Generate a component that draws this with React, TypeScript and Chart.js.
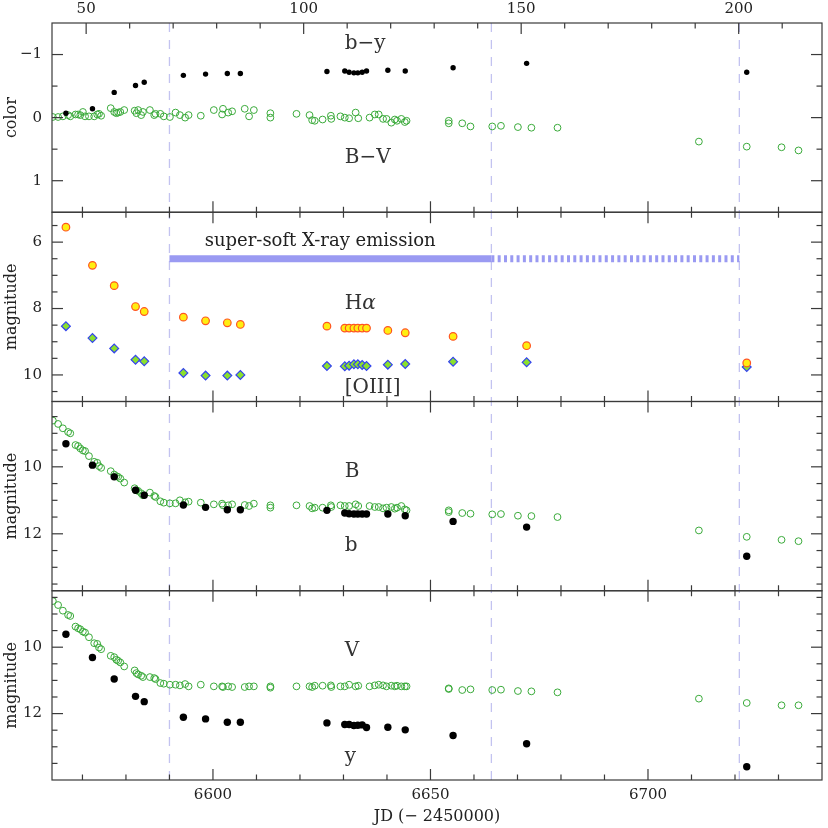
import React, { useEffect, useRef } from 'react';
import { Chart, registerables } from 'chart.js';

Chart.register(...registerables);

// ---------------- data ----------------
// nights with Stromgren b, y and narrow-band Halpha / [OIII] photometry (JD - 2450000)
const nightJD = [6566.2, 6572.3, 6577.3, 6582.2, 6584.2, 6593.2, 6598.3, 6603.3, 6606.3, 6626.2, 6630.3, 6631.3, 6632.4, 6633.3, 6634.3, 6635.3, 6640.2, 6644.2, 6655.2, 6672.1, 6722.7];
const bMinusY = [-0.07, -0.14, -0.40, -0.51, -0.56, -0.67, -0.69, -0.70, -0.70, -0.73, -0.74, -0.72, -0.71, -0.71, -0.72, -0.74, -0.75, -0.74, -0.79, -0.86, -0.72];
const hAlphaMag = [5.55, 6.70, 7.31, 7.94, 8.09, 8.26, 8.37, 8.43, 8.48, 8.53, 8.59, 8.59, 8.59, 8.59, 8.59, 8.59, 8.66, 8.73, 8.84, 9.12, 9.64];
const oIIIMag = [8.53, 8.89, 9.20, 9.54, 9.59, 9.94, 10.02, 10.02, 10.00, 9.73, 9.74, 9.72, 9.68, 9.68, 9.70, 9.73, 9.69, 9.67, 9.60, 9.62, 9.76];
const bStromMag = [9.31, 9.95, 10.30, 10.70, 10.85, 11.14, 11.21, 11.28, 11.28, 11.30, 11.38, 11.40, 11.41, 11.41, 11.41, 11.41, 11.41, 11.46, 11.63, 11.80, 12.67];
const yStromMag = [9.61, 10.31, 10.96, 11.48, 11.64, 12.11, 12.16, 12.26, 12.26, 12.28, 12.33, 12.33, 12.36, 12.35, 12.34, 12.42, 12.41, 12.49, 12.66, 12.91, 13.60];

// Johnson B, V photometry (JD - 2450000)
const bvJD = [
  6563.2, 6564.4, 6565.5, 6566.7, 6567.2, 6568.4, 6569.0, 6569.5, 6570.1, 6570.6,
  6571.5, 6572.7, 6573.4, 6573.8, 6574.3, 6576.5, 6577.3, 6577.8, 6578.2, 6578.7,
  6579.6, 6582.0, 6582.4, 6582.8, 6583.5, 6583.9, 6585.5, 6586.5, 6586.8, 6587.9,
  6588.7, 6590.1, 6591.4, 6592.4, 6593.6, 6594.4, 6597.2, 6600.2, 6602.1, 6602.3,
  6603.5, 6604.4, 6607.3, 6608.3, 6609.4, 6613.2, 6613.2, 6619.2, 6622.2, 6622.8,
  6623.4, 6625.2, 6627.1, 6627.2, 6629.3, 6630.3, 6631.3, 6632.8, 6633.4, 6636.0,
  6637.2, 6638.1, 6639.1, 6639.9, 6641.0, 6641.8, 6642.3, 6643.3, 6644.1, 6644.5,
  6654.2, 6654.2, 6657.3, 6659.2, 6664.2, 6666.2, 6670.1, 6673.2, 6679.2, 6711.7,
  6722.7, 6730.7, 6734.6,
];
const bMinusV = [
  -0.01, -0.01, -0.02, -0.04, -0.02, -0.05, -0.05, -0.04, -0.09, -0.02,
  -0.02, -0.02, -0.05, -0.06, -0.03, -0.15, -0.09, -0.07, -0.08, -0.09,
  -0.12, -0.11, -0.07, -0.12, -0.04, -0.09, -0.12, -0.04, -0.06, -0.06,
  -0.02, -0.01, -0.08, -0.04, 0.00, -0.04, -0.03, -0.12, -0.05, -0.14,
  -0.08, -0.10, -0.14, -0.02, -0.12, -0.07, 0.00, -0.06, -0.04, 0.04,
  0.05, 0.03, -0.03, 0.02, -0.02, 0.00, 0.01, -0.08, 0.01, 0.00,
  -0.05, -0.05, 0.02, 0.02, 0.08, 0.03, 0.05, 0.02, 0.07, 0.05,
  0.05, 0.09, 0.09, 0.14, 0.14, 0.13, 0.15, 0.16, 0.16, 0.38,
  0.46, 0.47, 0.52,
];
const bJohnsonMag = [
  8.62, 8.72, 8.85, 8.96, 9.00, 9.35, 9.38, 9.45, 9.51, 9.53,
  9.68, 9.85, 9.88, 9.98, 10.03, 10.13, 10.23, 10.28, 10.30, 10.35,
  10.47, 10.64, 10.70, 10.72, 10.79, 10.85, 10.77, 10.87, 10.90, 11.03,
  11.07, 11.09, 11.09, 11.00, 11.06, 11.04, 11.07, 11.12, 11.10, 11.15,
  11.15, 11.12, 11.14, 11.17, 11.10, 11.15, 11.22, 11.15, 11.17, 11.24,
  11.22, 11.22, 11.15, 11.20, 11.15, 11.17, 11.17, 11.12, 11.17, 11.17,
  11.20, 11.20, 11.24, 11.22, 11.20, 11.25, 11.22, 11.17, 11.27, 11.30,
  11.30, 11.35, 11.38, 11.40, 11.42, 11.41, 11.46, 11.47, 11.50, 11.90,
  12.09, 12.18, 12.22,
];
const vJohnsonMag = [
  8.61, 8.73, 8.90, 9.03, 9.06, 9.38, 9.43, 9.46, 9.53, 9.56,
  9.70, 9.88, 9.90, 10.01, 10.06, 10.26, 10.30, 10.38, 10.41, 10.46,
  10.58, 10.70, 10.78, 10.82, 10.86, 10.90, 10.90, 10.93, 10.96, 11.08,
  11.10, 11.13, 11.13, 11.15, 11.11, 11.18, 11.13, 11.18, 11.18, 11.20,
  11.18, 11.20, 11.20, 11.18, 11.18, 11.18, 11.22, 11.18, 11.18, 11.20,
  11.16, 11.16, 11.15, 11.20, 11.18, 11.18, 11.13, 11.18, 11.16, 11.18,
  11.15, 11.13, 11.15, 11.18, 11.16, 11.18, 11.16, 11.18, 11.18, 11.18,
  11.24, 11.26, 11.29, 11.27, 11.29, 11.28, 11.32, 11.33, 11.36, 11.55,
  11.68, 11.75, 11.75,
];

// super-soft X-ray phase
const phaseLinesJD = [6590, 6664, 6721];
const sssSolidJD = [6590, 6664];
const sssDashedJD = [6664, 6721];
const sssLevel = 6.5;

// axes
const JD_MIN = 6563;
const JD_MAX = 6740;
const DAY_ZERO = 6520.85; // top axis: days = JD - DAY_ZERO
const jdTickLabels = [6600, 6650, 6700];
const dayTickLabels = [50, 100, 150, 200];
const colorTickLabels = [-1, 0, 1];
const lineTickLabels = [6, 8, 10];
const bTickLabels = [10, 12];
const vTickLabels = [10, 12];

// ---------------- styling ----------------
const FONT = '"DejaVu Serif", "Liberation Serif", serif';
const TEXT = '#222';
const FRAME = '#3a3a3a';
const GREEN = '#3aaa3a';

const panels = [
  { id: 'yColor', min: -1.5, max: 1.5, labels: colorTickLabels, title: 'color', weight: 4 },
  { id: 'yLine', min: 5.1, max: 10.8, labels: lineTickLabels, title: 'magnitude', weight: 3 },
  { id: 'yB', min: 8.05, max: 13.7, labels: bTickLabels, title: 'magnitude', weight: 2 },
  { id: 'yV', min: 8.3, max: 14.0, labels: vTickLabels, title: 'magnitude', weight: 1 },
];

const panelLabels = [
  { text: 'b−y', italic: '', axis: 'yColor', jd: 6630.3, val: -1.09 },
  { text: 'B−V', italic: '', axis: 'yColor', jd: 6630.3, val: 0.72 },
  { text: 'H', italic: 'α', axis: 'yLine', jd: 6630.3, val: 8.02 },
  { text: '[OIII]', italic: '', axis: 'yLine', jd: 6630.3, val: 10.55 },
  { text: 'B', italic: '', axis: 'yB', jd: 6630.3, val: 10.31 },
  { text: 'b', italic: '', axis: 'yB', jd: 6630.3, val: 12.5 },
  { text: 'V', italic: '', axis: 'yV', jd: 6630.3, val: 10.28 },
  { text: 'y', italic: '', axis: 'yV', jd: 6630.3, val: 13.47 },
];
const sssText = { text: 'super-soft X-ray emission', jd: 6598.1, val: 6.12 };

const fmt = (v: number) => (v < 0 ? '−' + Math.abs(v) : String(v));
const pts = (xs: number[], ys: number[]) => xs.map((x, i) => ({ x, y: ys[i] }));

const decorPlugin = {
  id: 'decor',
  beforeDatasetsDraw(chart: any) {
    const { ctx, chartArea } = chart;
    const x = chart.scales.x;
    ctx.save();
    ctx.strokeStyle = 'rgb(195,195,240)';
    ctx.lineWidth = 1.3;
    ctx.setLineDash([9, 8]);
    phaseLinesJD.forEach((jd) => {
      const px = x.getPixelForValue(jd);
      ctx.beginPath();
      ctx.moveTo(px, chartArea.top);
      ctx.lineTo(px, chartArea.bottom);
      ctx.stroke();
    });
    ctx.restore();
  },
  afterDatasetsDraw(chart: any) {
    const { ctx, chartArea } = chart;
    const x = chart.scales.x;
    const xt = chart.scales.xt;
    const L = chartArea.left;
    const R = chartArea.right;
    const MAJ = 11;
    const MIN = 5.5;
    ctx.save();
    ctx.strokeStyle = FRAME;
    ctx.lineWidth = 1.2;
    ctx.setLineDash([]);
    const line = (x1: number, y1: number, x2: number, y2: number) => {
      ctx.beginPath();
      ctx.moveTo(x1, y1);
      ctx.lineTo(x2, y2);
      ctx.stroke();
    };
    panels.forEach((p, idx) => {
      const s = chart.scales[p.id];
      const T = s.top;
      const B = s.bottom;
      ctx.strokeRect(L, T, R - L, B - T);
      // y ticks, every 0.5
      for (let v = Math.ceil(p.min * 2) / 2; v <= p.max + 1e-9; v += 0.5) {
        const py = s.getPixelForValue(v);
        if (py <= T + 0.5 || py >= B - 0.5) continue;
        const len = p.labels.includes(v) ? MAJ : MIN;
        line(L, py, L + len, py);
        line(R - len, py, R, py);
      }
      // x ticks (JD) every 10 days
      for (let jd = Math.ceil(JD_MIN / 10) * 10; jd < JD_MAX; jd += 10) {
        const px = x.getPixelForValue(jd);
        const len = jd % 50 === 0 ? MAJ : MIN;
        line(px, B, px, B - len);
        if (idx > 0) line(px, T, px, T + len);
      }
      if (idx === 0) {
        for (let d = Math.ceil((JD_MIN - DAY_ZERO) / 10) * 10; d < JD_MAX - DAY_ZERO; d += 10) {
          const px = xt.getPixelForValue(d);
          const len = d % 50 === 0 ? MAJ : MIN;
          line(px, T, px, T + len);
        }
      }
    });
    // text labels
    ctx.fillStyle = '#333';
    ctx.textBaseline = 'alphabetic';
    ctx.textAlign = 'left';
    panelLabels.forEach((l) => {
      const px = x.getPixelForValue(l.jd);
      const py = chart.scales[l.axis].getPixelForValue(l.val);
      ctx.font = `20px ${FONT}`;
      ctx.fillText(l.text, px, py);
      if (l.italic) {
        const w = ctx.measureText(l.text).width;
        ctx.font = `italic 20px ${FONT}`;
        ctx.fillText(l.italic, px + w, py);
      }
    });
    ctx.font = `18px ${FONT}`;
    ctx.fillStyle = '#222';
    ctx.fillText(sssText.text, x.getPixelForValue(sssText.jd), chart.scales.yLine.getPixelForValue(sssText.val));
    ctx.restore();
  },
};

function yAxis(p: any) {
  return {
    type: 'linear',
    position: 'left',
    stack: 'panels',
    stackWeight: 1,
    weight: p.weight,
    min: p.min,
    max: p.max,
    reverse: true,
    afterBuildTicks: (s: any) => {
      s.ticks = p.labels.map((v: number) => ({ value: v }));
    },
    afterFit: (s: any) => {
      s.width = 52;
    },
    grid: { display: false, drawTicks: false },
    border: { display: false },
    ticks: {
      padding: 10,
      color: TEXT,
      autoSkip: false,
      font: { family: FONT, size: 15 },
      callback: (v: number) => fmt(v),
    },
    title: {
      display: true,
      text: p.title,
      color: TEXT,
      font: { family: FONT, size: 16 },
      padding: { top: 2, bottom: 0 },
    },
  };
}

export default function App() {
  const ref = useRef<HTMLCanvasElement | null>(null);
  useEffect(() => {
    if (!ref.current) return;
    const scales: any = {
      x: {
        type: 'linear',
        position: 'bottom',
        min: JD_MIN,
        max: JD_MAX,
        afterBuildTicks: (s: any) => {
          s.ticks = jdTickLabels.map((v) => ({ value: v }));
        },
        afterFit: (s: any) => {
          s.height = 48;
        },
        grid: { display: false, drawTicks: false },
        border: { display: false },
        ticks: {
          padding: 6,
          maxRotation: 0,
          autoSkip: false,
          color: TEXT,
          font: { family: FONT, size: 15 },
          callback: (v: number) => String(v),
        },
        title: {
          display: true,
          text: 'JD (− 2450000)',
          color: TEXT,
          font: { family: FONT, size: 16 },
          padding: { top: 0, bottom: 2 },
        },
      },
      xt: {
        type: 'linear',
        position: 'top',
        min: JD_MIN - DAY_ZERO,
        max: JD_MAX - DAY_ZERO,
        afterBuildTicks: (s: any) => {
          s.ticks = dayTickLabels.map((v) => ({ value: v }));
        },
        afterFit: (s: any) => {
          s.height = 23;
        },
        grid: { display: false, drawTicks: false },
        border: { display: false },
        ticks: {
          padding: 5,
          maxRotation: 0,
          autoSkip: false,
          color: TEXT,
          font: { family: FONT, size: 15 },
          callback: (v: number) => String(v),
        },
      },
    };
    panels.forEach((p) => {
      scales[p.id] = yAxis(p);
    });

    const greenOpen = (data: any[], yAxisID: string) => ({
      data,
      yAxisID,
      xAxisID: 'x',
      pointRadius: 3.4,
      pointBorderWidth: 1,
      pointBackgroundColor: 'rgba(0,0,0,0)',
      pointBorderColor: GREEN,
      order: 3,
    });
    const blackDot = (data: any[], yAxisID: string, r: number) => ({
      data,
      yAxisID,
      xAxisID: 'x',
      pointRadius: r,
      pointBorderWidth: 0,
      pointBackgroundColor: '#000',
      pointBorderColor: '#000',
      order: 1,
    });

    const chart = new Chart(ref.current, {
      type: 'scatter',
      data: {
        datasets: [
          greenOpen(pts(bvJD, bMinusV), 'yColor'),
          blackDot(pts(nightJD, bMinusY), 'yColor', 2.7),
          {
            data: pts(sssSolidJD, [sssLevel, sssLevel]),
            yAxisID: 'yLine',
            xAxisID: 'x',
            showLine: true,
            borderColor: '#9a9af2',
            borderWidth: 7,
            borderCapStyle: 'butt',
            pointRadius: 0,
            order: 5,
          },
          {
            data: pts(sssDashedJD, [sssLevel, sssLevel]),
            yAxisID: 'yLine',
            xAxisID: 'x',
            showLine: true,
            borderColor: '#9a9af2',
            borderWidth: 7,
            borderDash: [3, 3.3],
            borderCapStyle: 'butt',
            pointRadius: 0,
            order: 5,
          },
          {
            data: pts(nightJD, oIIIMag),
            yAxisID: 'yLine',
            xAxisID: 'x',
            pointStyle: 'rectRot',
            pointRadius: 4.4,
            pointBorderWidth: 1.2,
            pointBackgroundColor: '#8be02c',
            pointBorderColor: '#3344ee',
            order: 2,
          },
          {
            data: pts(nightJD, hAlphaMag),
            yAxisID: 'yLine',
            xAxisID: 'x',
            pointRadius: 3.8,
            pointBorderWidth: 1.2,
            pointBackgroundColor: '#ffee10',
            pointBorderColor: '#ff5522',
            order: 1,
          },
          greenOpen(pts(bvJD, bJohnsonMag), 'yB'),
          blackDot(pts(nightJD, bStromMag), 'yB', 3.7),
          greenOpen(pts(bvJD, vJohnsonMag), 'yV'),
          blackDot(pts(nightJD, yStromMag), 'yV', 3.7),
        ] as any,
      },
      options: {
        animation: false,
        responsive: false,
        devicePixelRatio: 1,
        events: [],
        layout: { padding: { left: 0, right: 6, top: 0, bottom: 0 } },
        plugins: { legend: { display: false }, tooltip: { enabled: false } },
        scales,
      } as any,
      plugins: [decorPlugin],
    });
    return () => chart.destroy();
  }, []);

  return (
    <div style={{ position: 'absolute', left: 0, top: 0, width: 828, height: 828, background: '#fff' }}>
      <canvas ref={ref} width={828} height={828} style={{ display: 'block' }} />
    </div>
  );
}
